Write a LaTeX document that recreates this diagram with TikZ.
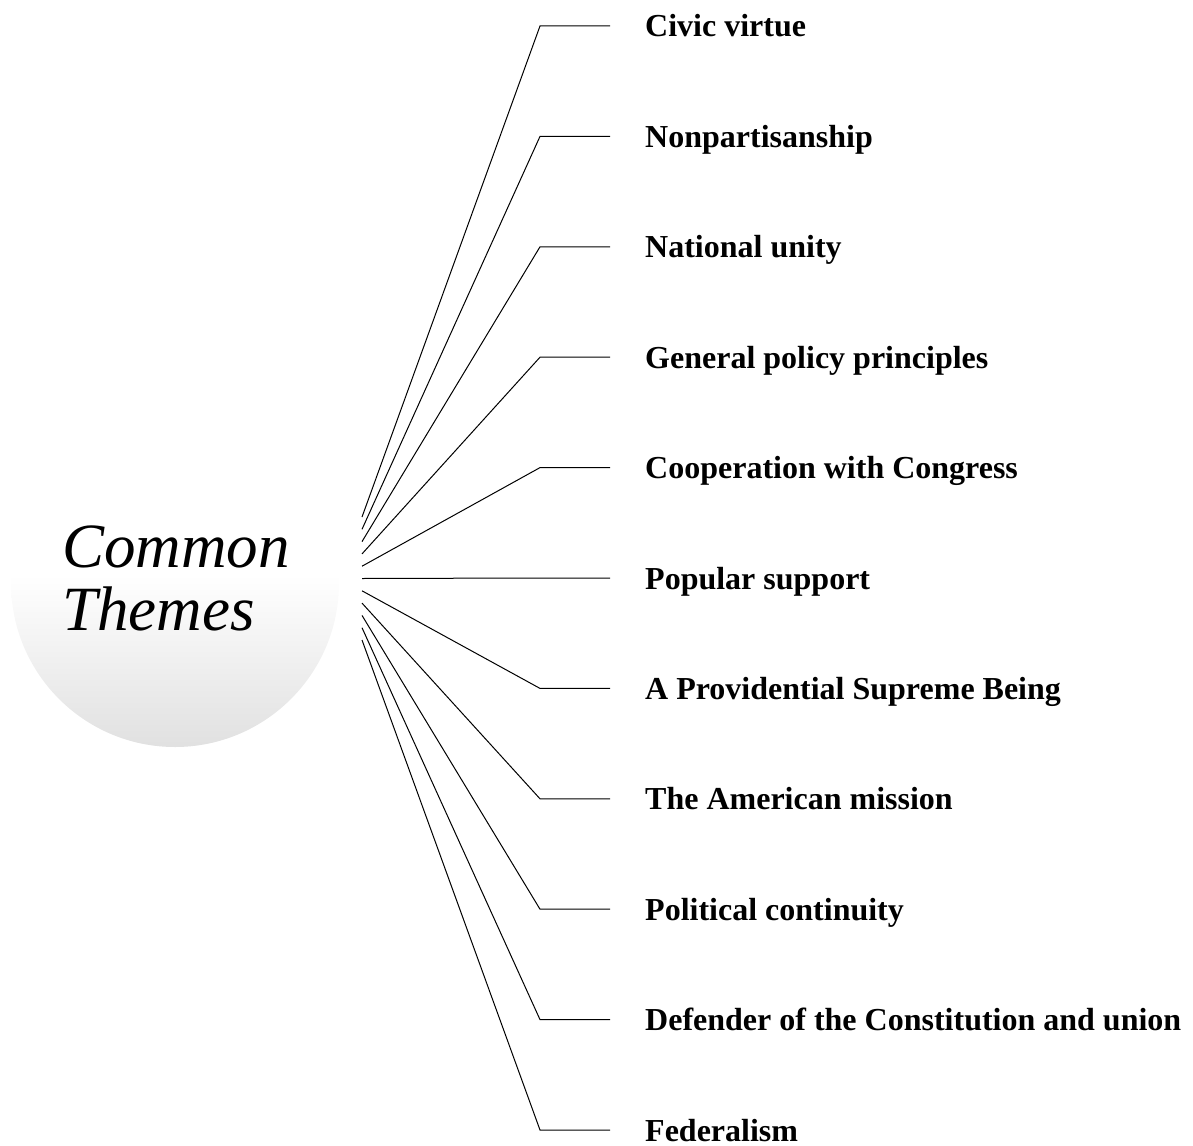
\documentclass[tikz,border=0pt]{standalone}
\usepackage{fontspec}
\setmainfont{Liberation Serif}
\begin{document}
\begin{tikzpicture}[x=1pt,y=-1pt,
  conn/.style={draw=black,line width=1pt},
  theme/.style={anchor=base west,inner sep=0pt,font=\fontsize{32}{38}\selectfont\bfseries},
  titletext/.style={anchor=base west,inner sep=0pt,font=\fontsize{63}{68}\selectfont\itshape}]
\useasboundingbox (0,0) rectangle (1193,1145);
\begin{scope}
  \clip (175,583) circle (164);
  \shade[top color=white,bottom color=black!12] (0,575) rectangle (350,748);
\end{scope}
\node[titletext] (t1) at (62,567) {Common};
\node[titletext] (t2) at (62,630) {Themes};
\foreach \lab [count=\i from 0] in {Civic virtue,Nonpartisanship,National unity,General policy principles,Cooperation with Congress,Popular support,A Providential Supreme Being,The American mission,Political continuity,Defender of the Constitution and union,Federalism}{
  \pgfmathsetmacro{\ye}{26+110.4*\i}
  \pgfmathsetmacro{\ys}{517+12.3*\i}
  \coordinate (s\i) at (362,\ys);
  \coordinate (b\i) at (540,\ye);
  \coordinate (e\i) at (610,\ye);
  \node[theme] (l\i) at (645,\ye+11) {\lab};
  \draw[conn] (s\i) -- (b\i) -- (e\i);
}
\end{tikzpicture}
\end{document}
